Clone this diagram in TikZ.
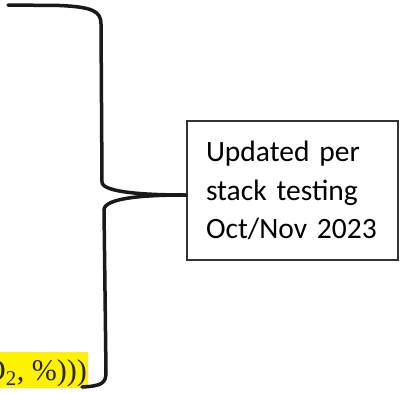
\documentclass[tikz,border=0pt]{standalone}
\usepackage{fontspec}
\newfontfamily\boxfont{Carlito}
\newfontfamily\notefont{Liberation Serif}
\tikzset{
  brace line/.style={line width=3.5pt, line cap=round, black!90},
  note box/.style={draw=black!80, line width=1.8pt, minimum width=211pt,
    minimum height=139pt, text width=173pt, inner xsep=19pt, align=left,
    text=black, font=\boxfont\fontsize{29.5}{38.5}\selectfont},
  mark text/.style={anchor=base east, inner sep=0pt, text=black!85,
    font=\notefont\fontsize{30}{33}\selectfont}
}
\begin{document}
\begin{tikzpicture}[x=1pt,y=-1pt]
  \useasboundingbox (0,0) rectangle (401,392);
  \clip (0,0) rectangle (401,392);
  % highlighted formula, cut at the left edge
  \fill[yellow] (0,352) rectangle (88,388);
  \node[mark text] (formula) at (87,380) {O\textsubscript{2}, \%)))};
  % the note
  \node[note box] (update) at (292.5,190.5) {Updated per\\stack testing\\Oct/Nov 2023};
  % brace ends
  \coordinate (top) at (8,5);
  \coordinate (tip) at (update.west |- 0,195);
  \coordinate (bottom) at (82,387);
  \draw[brace line] (top) -- (60,5.5) .. controls (92,7) and (101,11) .. (101,24)
    -- (102,182) .. controls (102,193) and (150,195) .. (tip);
  \draw[brace line] (tip) .. controls (150,195) and (104,197) .. (104,210)
    -- (106,372) .. controls (106,383) and (102,386) .. (bottom);
\end{tikzpicture}
\end{document}
